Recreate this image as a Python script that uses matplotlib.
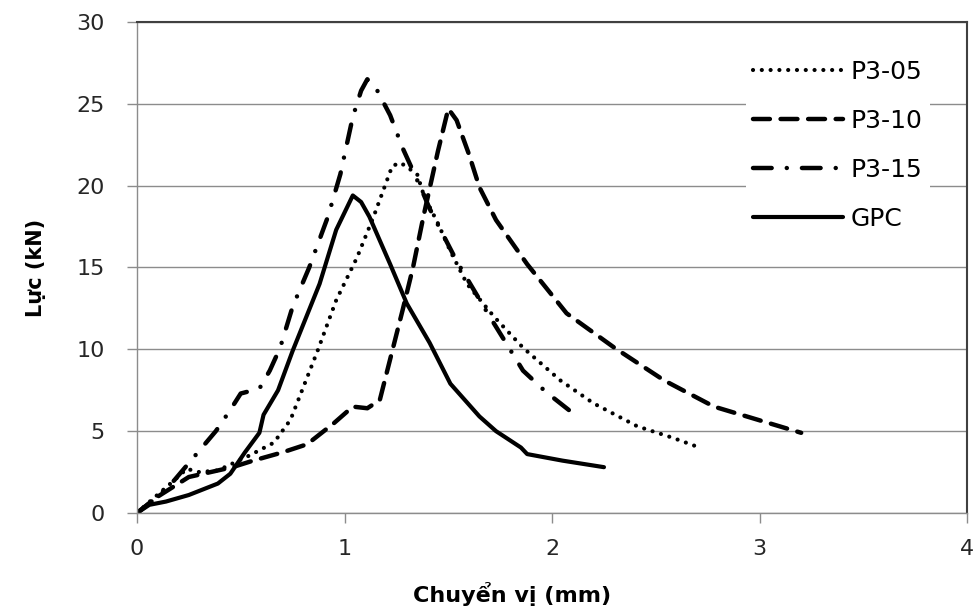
import matplotlib
matplotlib.use("Agg")
import matplotlib.pyplot as plt

plt.rcParams['font.family'] = ['DejaVu Sans']

# Values (displacement in mm, force in kN)
p305_x = [0.0, 0.08, 0.18, 0.24, 0.30, 0.39, 0.54, 0.66, 0.74, 0.87, 0.96, 1.06, 1.14, 1.23, 1.27,
          1.35, 1.38, 1.41, 1.45, 1.51, 1.59, 1.72, 1.86, 2.04, 2.20, 2.41, 2.58, 2.71]
p305_y = [0.0, 0.9, 2.0, 2.7, 2.5, 2.6, 3.5, 4.3, 5.7, 9.9, 13.0, 15.6, 18.1, 21.2, 21.4,
          20.7, 19.5, 18.7, 17.7, 16.0, 14.0, 12.0, 10.1, 8.1, 6.7, 5.3, 4.6, 4.0]

p310_x = [0.0, 0.10, 0.25, 0.46, 0.56, 0.70, 0.82, 0.95, 1.04, 1.11, 1.17, 1.23, 1.28, 1.33,
          1.38, 1.45, 1.50, 1.54, 1.60, 1.65, 1.73, 1.88, 2.07, 2.30, 2.54, 2.78, 2.99, 3.20]
p310_y = [0.0, 1.0, 2.2, 2.8, 3.2, 3.7, 4.2, 5.5, 6.5, 6.4, 6.9, 9.9, 12.4, 15.0,
          18.1, 22.1, 24.7, 24.0, 21.9, 19.9, 17.9, 15.2, 12.2, 10.1, 8.1, 6.5, 5.7, 4.9]

p315_x = [0.0, 0.10, 0.18, 0.30, 0.38, 0.45, 0.50, 0.59, 0.64, 0.69, 0.75, 0.83, 0.92, 0.98,
          1.04, 1.08, 1.11, 1.15, 1.22, 1.28, 1.38, 1.41, 1.54, 1.69, 1.86, 1.97, 2.13]
p315_y = [0.0, 1.0, 2.0, 3.8, 5.0, 6.3, 7.3, 7.6, 8.7, 10.1, 12.6, 15.0, 18.1, 20.7,
          24.2, 25.8, 26.5, 26.0, 24.3, 22.3, 19.5, 18.6, 15.4, 12.2, 8.7, 7.4, 5.8]

gpc_x = [0.0, 0.06, 0.14, 0.25, 0.39, 0.45, 0.52, 0.59, 0.61, 0.68, 0.75, 0.88, 0.96, 1.04,
         1.08, 1.12, 1.22, 1.30, 1.41, 1.51, 1.65, 1.73, 1.85, 1.88, 2.05, 2.25]
gpc_y = [0.0, 0.5, 0.7, 1.1, 1.8, 2.4, 3.7, 4.9, 6.0, 7.5, 9.9, 14.0, 17.3, 19.4,
         19.0, 18.1, 15.2, 12.8, 10.4, 7.9, 5.9, 5.0, 4.0, 3.6, 3.2, 2.8]

series_labels = ['P3-05', 'P3-10', 'P3-15', 'GPC']
x_ticks = [0, 1, 2, 3, 4]
y_ticks = [0, 5, 10, 15, 20, 25, 30]

fig = plt.figure(figsize=(9.78, 6.10), dpi=100)
ax = fig.add_axes([0.140, 0.159, 0.849, 0.805])

ax.plot(p305_x, p305_y, color='black', lw=3.0, linestyle=(0, (0.01, 2.1)),
        dash_capstyle='round', label=series_labels[0])
ax.plot(p310_x, p310_y, color='black', lw=3.2, linestyle=(0, (3.8, 2.4)),
        dash_capstyle='round', label=series_labels[1])
ax.plot(p315_x, p315_y, color='black', lw=3.2, linestyle=(0, (4.2, 3.4, 0.01, 3.4)),
        dash_capstyle='round', label=series_labels[2])
ax.plot(gpc_x, gpc_y, color='black', lw=3.0, solid_capstyle='round', label=series_labels[3])

ax.set_xlim(0, 4)
ax.set_ylim(0, 30)
ax.set_xticks(x_ticks)
ax.set_yticks(y_ticks)
ax.yaxis.grid(True, color='#8c8c8c', lw=1.0)
ax.set_axisbelow(True)

for side in ['left', 'bottom']:
    ax.spines[side].set_color('#8c8c8c')
    ax.spines[side].set_linewidth(1.0)
for side in ['top', 'right']:
    ax.spines[side].set_color('#404040')
    ax.spines[side].set_linewidth(1.5)

ax.tick_params(axis='both', direction='out', length=7, width=1.0, color='#8c8c8c',
               labelsize=16, labelcolor='#262626')
ax.tick_params(axis='y', pad=16)
ax.tick_params(axis='x', pad=12)

ax.set_xlabel('Chuyển vị (mm)', fontsize=16, fontweight='bold', va='center')
ax.xaxis.set_label_coords(0.452, -0.165)
ax.set_ylabel('Lực (kN)', fontsize=15, fontweight='bold', labelpad=22)

leg = ax.legend(loc='upper left', bbox_to_anchor=(0.718, 0.964), fontsize=18,
                frameon=True, fancybox=False, facecolor='white', edgecolor='none',
                framealpha=1.0, handlelength=3.6, handletextpad=0.3, labelspacing=1.0,
                borderpad=0.3)

fig.savefig('out.png', dpi=100)
